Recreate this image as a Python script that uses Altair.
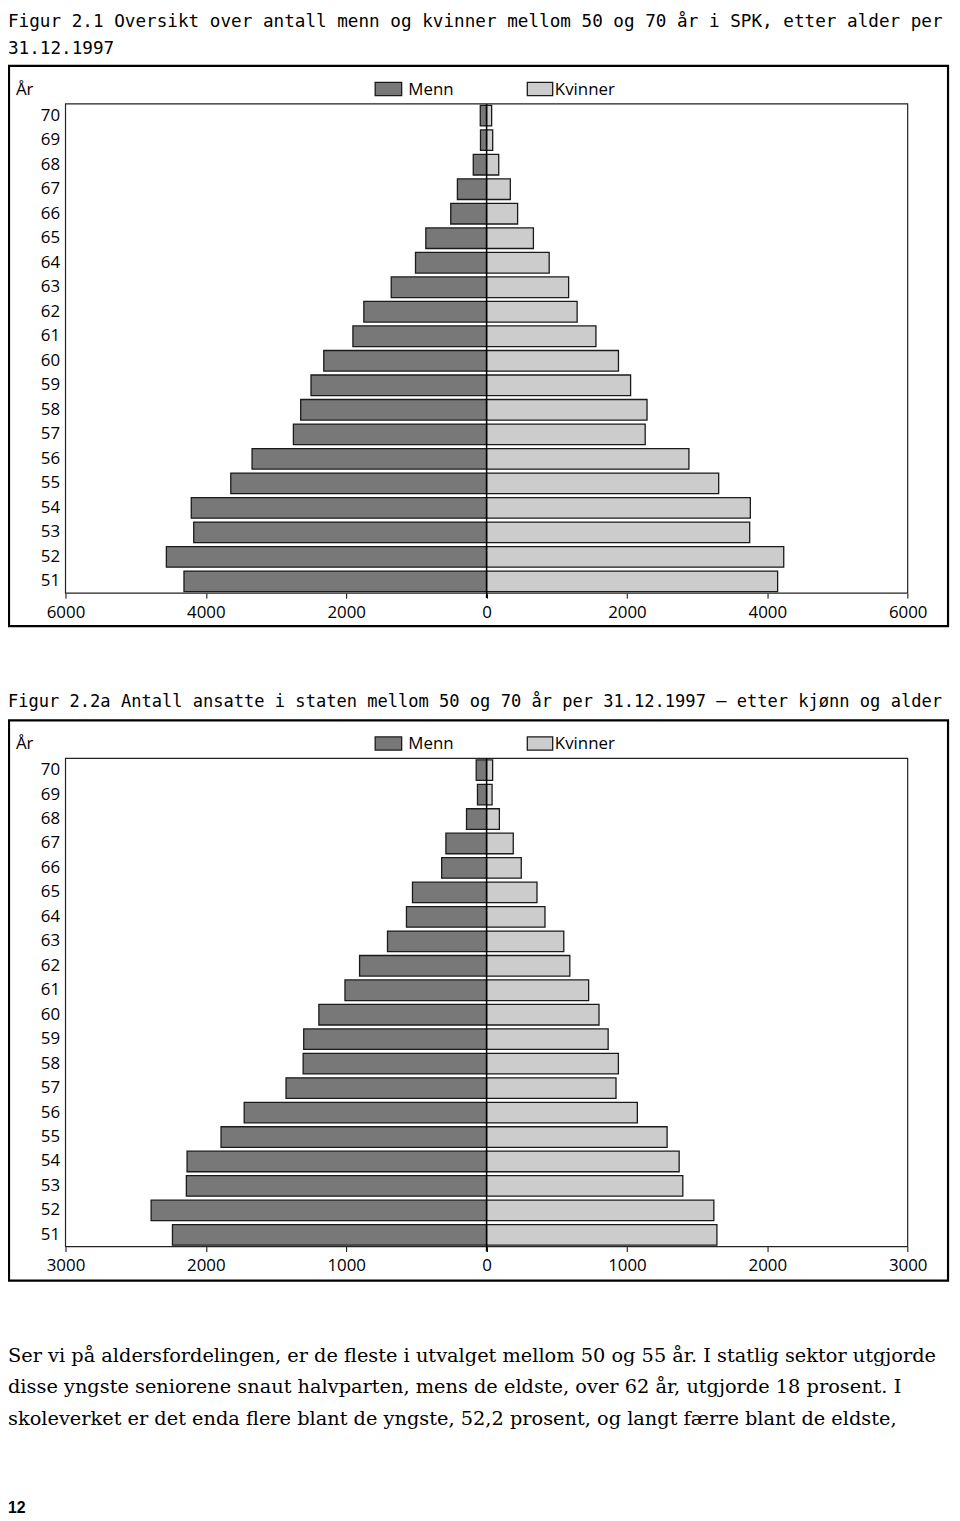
import altair as alt
import pandas as pd

# ---------------- data ----------------
ages = [70, 69, 68, 67, 66, 65, 64, 63, 62, 61, 60, 59, 58, 57, 56, 55, 54, 53, 52, 51]

# Figur 2.1 (SPK)
men_spk = [90, 87, 190, 416, 511, 866, 1013, 1359, 1749, 1905,
           2320, 2502, 2649, 2753, 3342, 3645, 4208, 4173, 4563, 4312]
women_spk = [72, 87, 173, 338, 442, 667, 892, 1169, 1290, 1558,
             1879, 2052, 2286, 2260, 2883, 3307, 3758, 3749, 4234, 4147]

# Figur 2.2a (staten)
men_stat = [74, 65, 143, 290, 320, 528, 571, 706, 905, 1009,
            1195, 1303, 1307, 1429, 1727, 1892, 2134, 2139, 2390, 2238]
women_stat = [43, 39, 91, 190, 247, 359, 416, 550, 593, 727,
              801, 866, 939, 922, 1074, 1286, 1372, 1398, 1619, 1641]

sexes = ["Menn", "Kvinner"]
ticks_spk = [-6000, -4000, -2000, 0, 2000, 4000, 6000]
ticks_stat = [-3000, -2000, -1000, 0, 1000, 2000, 3000]

title1 = ["Figur 2.1 Oversikt over antall menn og kvinner mellom 50 og 70 år i SPK, etter alder per",
          "31.12.1997"]
title2 = "Figur 2.2a Antall ansatte i staten mellom 50 og 70 år per 31.12.1997 – etter kjønn og alder"
paragraph = [
    "Ser vi på aldersfordelingen, er de fleste i utvalget mellom 50 og 55 år. I statlig sektor utgjorde",
    "disse yngste seniorene snaut halvparten, mens de eldste, over 62 år, utgjorde 18 prosent. I",
    "skoleverket er det enda flere blant de yngste, 52,2 prosent, og langt færre blant de eldste,",
]
page_no = "12"

# ---------------- styling / geometry ----------------
W, H = 952, 1513
DARK, LIGHT = "#787878", "#cccccc"
EDGE = "#1a1a1a"
SANS = "Open Sans"
MONO = "DejaVu Sans Mono"
SERIF = "DejaVu Serif"
X0, X1 = 58, 907.3
OFF = 660  # vertical offset between the two figure boxes


def txt(s, x, y, font=SANS, size=17, weight="normal", color="black"):
    return alt.Chart(pd.DataFrame({"t": [s]})).mark_text(
        align="left", baseline="alphabetic", font=font, fontSize=size,
        fontWeight=weight, color=color
    ).encode(text="t:N", x=alt.value(x), y=alt.value(y))


def box(x0, x1, y0, y1, sw, color="black", fill=None):
    kw = dict(stroke=color, strokeWidth=sw)
    if fill is None:
        kw["fillOpacity"] = 0
    else:
        kw["fill"] = fill
    return alt.Chart(pd.DataFrame({"d": [0]})).mark_rect(**kw).encode(
        x=alt.value(x0), x2=alt.value(x1), y=alt.value(y0), y2=alt.value(y1))


def pyramid(men, women, xmax, tickvals, y0, y1):
    df = pd.DataFrame({
        "age": [str(a) for a in ages] * 2,
        "sex": ["Menn"] * len(ages) + ["Kvinner"] * len(ages),
        "value": [-m for m in men] + list(women),
    })
    xscale = alt.Scale(domain=[-xmax, xmax], range=[X0, X1], nice=False)
    yscale = alt.Scale(domain=[str(a) for a in ages], range=[y0, y1],
                       paddingInner=0.16, paddingOuter=0.06)
    bars = alt.Chart(df).mark_bar(stroke=EDGE, strokeWidth=1.3).encode(
        x=alt.X("value:Q", scale=xscale, title=None,
                axis=alt.Axis(orient="bottom", offset=y1 - H, values=tickvals,
                              labelExpr="format(abs(datum.value), 'd')",
                              domain=False, grid=False, ticks=True, tickSize=5,
                              tickColor="black", tickWidth=1,
                              labelFont=SANS, labelFontSize=17, labelColor="black",
                              labelPadding=6.5, labelFlush=False, labelOverlap=False)),
        y=alt.Y("age:O", scale=yscale, sort=None, title=None,
                axis=alt.Axis(orient="left", offset=-X0, domain=False, ticks=False,
                              tickSize=0, grid=False, labelPadding=6,
                              labelFont=SANS, labelFontSize=17, labelColor="black",
                              labelOverlap=False)),
        color=alt.Color("sex:N", scale=alt.Scale(domain=sexes, range=[DARK, LIGHT]),
                        legend=None),
    )
    zero = alt.Chart(pd.DataFrame({"z": [0]})).mark_rule(
        color="black", strokeWidth=1.5
    ).encode(x=alt.datum(0), y=alt.value(y0), y2=alt.value(y1 + 5))
    return alt.layer(bars, zero)


def legend(dy):
    return [
        box(370.3, 397, 68.7 + dy, 82 + dy, 1.3, EDGE, DARK),
        txt("Menn", 403.7, 81.3 + dy),
        box(523.7, 549.3, 68.7 + dy, 82 + dy, 1.3, EDGE, LIGHT),
        txt("Kvinner", 551.5, 81.3 + dy),
        txt("År", 8, 81.3 + dy),
    ]


layers = []
# figure 2.1
layers.append(txt(title1[0], 0, 13, font=MONO, size=17.8))
layers.append(txt(title1[1], 0, 40, font=MONO, size=17.8))
layers.append(box(1, 948, 52, 617, 2.2))
layers.append(box(X0, X1, 90.3, 583.7, 1.2, "#222222"))
layers += legend(0)
layers.append(pyramid(men_spk, women_spk, 6000, ticks_spk, 90.3, 583.7))

# figure 2.2a
layers.append(txt(title2, 0, 698.7, font=MONO, size=17.2))
layers.append(box(1, 948, 52 + OFF, 617 + OFF, 2.2))
layers.append(box(X0, X1, 90.3 + OFF, 1242.7, 1.2, "#222222"))
layers += legend(OFF)
layers.append(pyramid(men_stat, women_stat, 3000, ticks_stat, 90.3 + OFF, 1242.7))

# running text
for i, line in enumerate(paragraph):
    layers.append(txt(line, 0, 1358.7 + i * 31.7, font=SERIF, size=19.5))
layers.append(txt(page_no, 0, 1511, font="Liberation Sans", size=16, weight="bold"))

chart = alt.layer(*layers).resolve_scale(
    x="independent", y="independent"
).properties(
    width=W, height=H, padding=0,
    autosize=alt.AutoSizeParams(type="none"),
    background="white",
).configure_view(strokeWidth=0)

chart.save("out.html", embed_options={"renderer": "svg", "actions": False})
